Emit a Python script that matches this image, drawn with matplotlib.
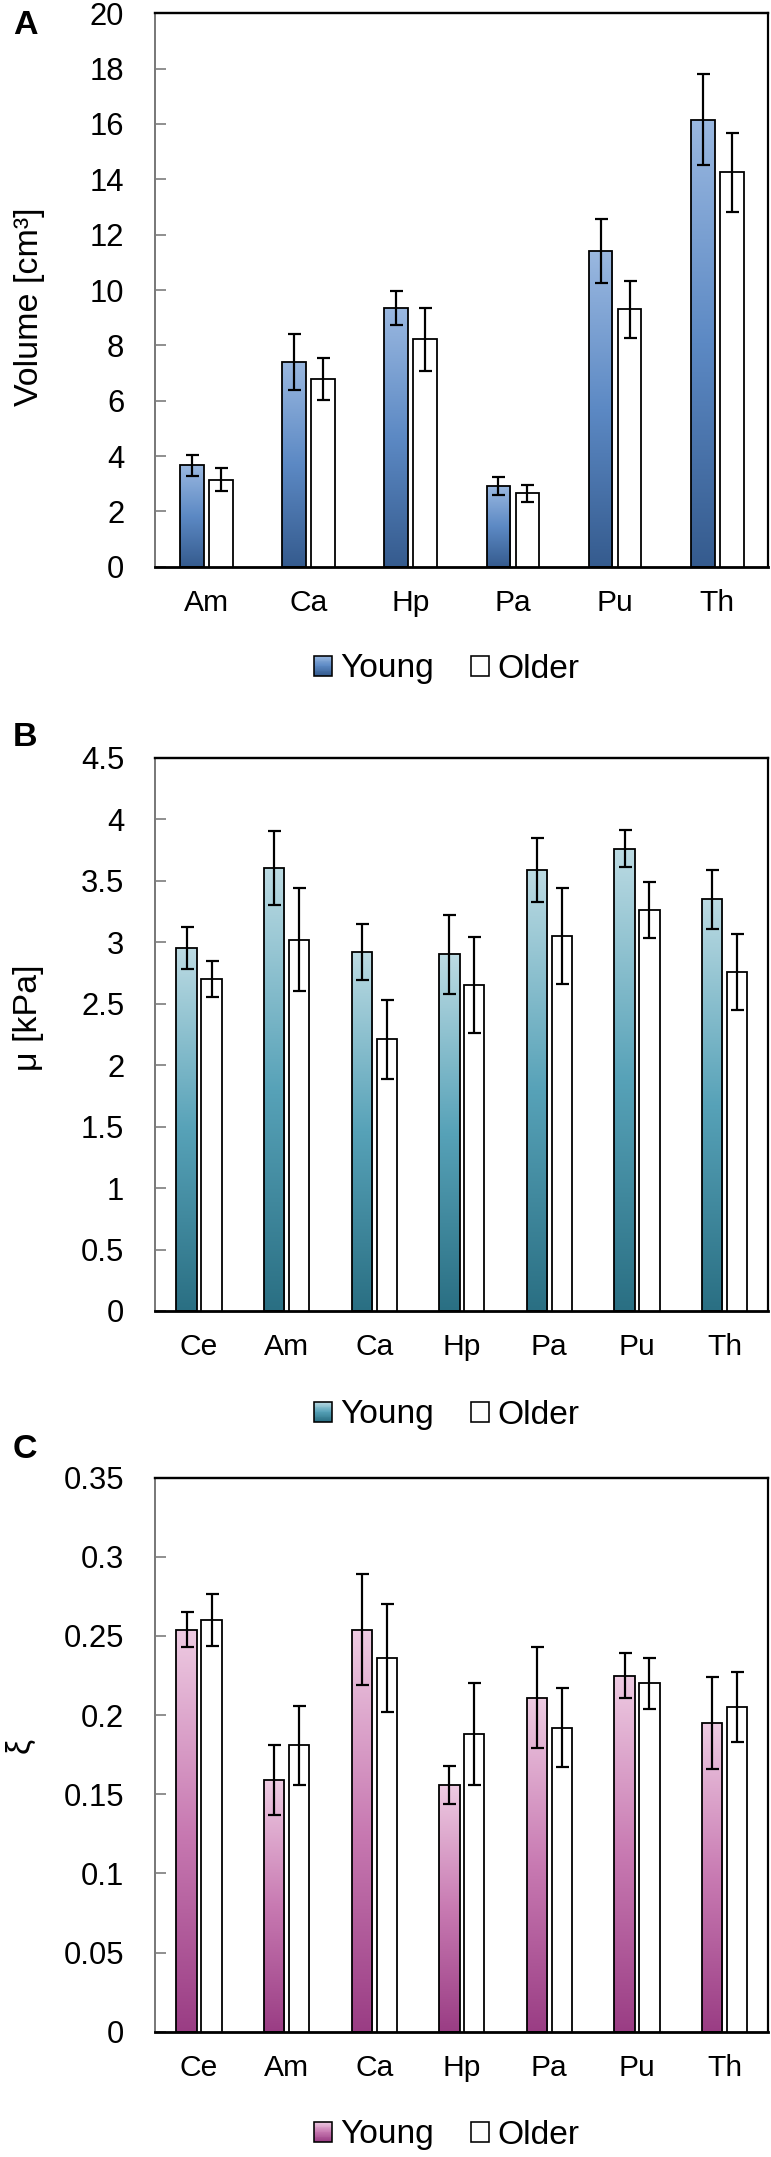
import numpy as np
import matplotlib
matplotlib.use('Agg')
import matplotlib.pyplot as plt
from matplotlib.colors import LinearSegmentedColormap
from matplotlib.legend_handler import HandlerBase
from matplotlib.patches import Rectangle, Patch

plt.rcParams['font.family'] = ['Liberation Sans', 'DejaVu Sans']

# ---------------- data ----------------
cats_A = ['Am', 'Ca', 'Hp', 'Pa', 'Pu', 'Th']
vol_young = [3.67, 7.41, 9.34, 2.91, 11.40, 16.16]
vol_young_err = [0.38, 1.01, 0.62, 0.33, 1.16, 1.65]
vol_older = [3.15, 6.78, 8.22, 2.65, 9.31, 14.25]
vol_older_err = [0.41, 0.77, 1.13, 0.31, 1.03, 1.44]

cats_BC = ['Ce', 'Am', 'Ca', 'Hp', 'Pa', 'Pu', 'Th']
mu_young = [2.95, 3.60, 2.92, 2.90, 3.59, 3.76, 3.35]
mu_young_err = [0.17, 0.30, 0.23, 0.32, 0.26, 0.15, 0.24]
mu_older = [2.70, 3.02, 2.21, 2.65, 3.05, 3.26, 2.76]
mu_older_err = [0.15, 0.42, 0.32, 0.39, 0.39, 0.23, 0.31]

xi_young = [0.254, 0.159, 0.254, 0.156, 0.211, 0.225, 0.195]
xi_young_err = [0.011, 0.022, 0.035, 0.012, 0.032, 0.014, 0.029]
xi_older = [0.260, 0.181, 0.236, 0.188, 0.192, 0.220, 0.205]
xi_older_err = [0.0165, 0.025, 0.034, 0.032, 0.025, 0.016, 0.022]

series_labels = ['Young', 'Older']
ylabels = ['Volume [cm³]', 'μ [kPa]', 'ξ']
panel_letters = ['A', 'B', 'C']

# ---------------- style ----------------
stops_A = ['#9ab8e0', '#5c89c4', '#355b8e']
stops_B = ['#bcdbe3', '#57a2b8', '#2a6f83']
stops_C = ['#eecbe2', '#c87ab2', '#9a3d84']

W, H, DPI = 771, 2157, 100


def px(v):
    return v * 72.0 / DPI


fig = plt.figure(figsize=(W / DPI, H / DPI), dpi=DPI)

AX_L, AX_R = 155.3, 768.3
panel_geom = [(13.3, 566.7), (757.7, 1311.0), (1477.7, 2031.7)]
legend_y = [669, 1415, 2135]
ylabel_pos = [(30, 307), (29, 1018), (20, 1745)]
letter_y = [26, 738, 1450]

TICK_FS = px(31)
CAT_FS = px(30)
LEG_FS = px(33.5)
YL_FS = px(34)


def gradient_image(stops, n=256):
    cmap = LinearSegmentedColormap.from_list('g', stops)
    return cmap(np.linspace(0, 1, n))[:, None, :]


class GradProxy:
    def __init__(self, stops):
        self.stops = stops


class GradHandler(HandlerBase):
    def create_artists(self, legend, orig_handle, xdescent, ydescent,
                       width, height, fontsize, trans):
        cmap = LinearSegmentedColormap.from_list('h', orig_handle.stops)
        n = 24
        arts = []
        for i in range(n):
            y0 = -ydescent + height * (1 - (i + 1) / n)
            arts.append(Rectangle((-xdescent, y0), width, height / n * 1.05,
                                  facecolor=cmap(i / (n - 1)), edgecolor='none',
                                  transform=trans))
        arts.append(Rectangle((-xdescent, -ydescent), width, height,
                              facecolor='none', edgecolor='black',
                              linewidth=px(1.6), transform=trans))
        return arts


def draw_panel(idx, cats, young, yerr, older, oerr, stops, ymax, ystep):
    top, bot = panel_geom[idx]
    ax = fig.add_axes([AX_L / W, 1 - bot / H, (AX_R - AX_L) / W, (bot - top) / H])
    x = np.arange(len(cats))
    w = 0.232
    off = 0.142
    by = ax.bar(x - off, young, w, facecolor='none', edgecolor='black',
                linewidth=px(1.8), zorder=3)
    ax.bar(x + off, older, w, facecolor='white', edgecolor='black',
           linewidth=px(1.8), zorder=3)
    img = gradient_image(stops)
    for r in by:
        x0, y0 = r.get_x(), r.get_y()
        ww, hh = r.get_width(), r.get_height()
        im = ax.imshow(img, extent=[x0, x0 + ww, y0, y0 + hh], aspect='auto',
                       origin='upper', zorder=2, interpolation='bilinear')
        im.set_clip_path(r)
    ax.errorbar(x - off, young, yerr=yerr, fmt='none', ecolor='black',
                elinewidth=px(2.2), capsize=px(6.5), capthick=px(2.2), zorder=4)
    ax.errorbar(x + off, older, yerr=oerr, fmt='none', ecolor='black',
                elinewidth=px(2.2), capsize=px(6.5), capthick=px(2.2), zorder=4)

    ax.set_xlim(-0.5, len(cats) - 0.5)
    ax.set_ylim(0, ymax)
    ticks = np.arange(0, ymax + ystep / 2, ystep)
    ax.set_yticks(ticks)
    ax.set_yticklabels([f'{round(t, 4):g}' for t in ticks])
    ax.set_xticks(x)
    ax.set_xticklabels(cats)
    ax.tick_params(axis='y', direction='in', length=px(10.7), width=px(1.5),
                   color='#6f6f6f', labelsize=TICK_FS, pad=px(31))
    ax.tick_params(axis='x', length=0, labelsize=CAT_FS, pad=px(22))
    ax.spines['left'].set_color('#7a7a7a')
    ax.spines['left'].set_linewidth(px(2))
    ax.spines['top'].set_linewidth(px(2.4))
    ax.spines['right'].set_linewidth(px(2.2))
    ax.spines['bottom'].set_linewidth(px(2.8))
    for s in ['top', 'right', 'bottom']:
        ax.spines[s].set_color('black')

    fig.legend(handles=[GradProxy(stops), Patch(facecolor='white', edgecolor='black',
                                                 linewidth=px(1.6))],
               labels=series_labels, loc='center',
               bbox_to_anchor=(447 / W, 1 - legend_y[idx] / H), ncol=2,
               frameon=False, fontsize=LEG_FS, handlelength=0.54,
               handleheight=0.54, handletextpad=0.25, columnspacing=1.1,
               borderpad=0, borderaxespad=0,
               handler_map={GradProxy: GradHandler()})
    xl, yl = ylabel_pos[idx]
    fig.text(xl / W, 1 - yl / H, ylabels[idx], rotation=90, ha='center',
             va='center', fontsize=YL_FS)
    fig.text(13 / W, 1 - letter_y[idx] / H, panel_letters[idx], ha='left',
             va='center', fontsize=px(34), fontweight='bold')
    return ax


draw_panel(0, cats_A, vol_young, vol_young_err, vol_older, vol_older_err,
           stops_A, 20, 2)
draw_panel(1, cats_BC, mu_young, mu_young_err, mu_older, mu_older_err,
           stops_B, 4.5, 0.5)
draw_panel(2, cats_BC, xi_young, xi_young_err, xi_older, xi_older_err,
           stops_C, 0.35, 0.05)

fig.savefig('out.png', dpi=DPI)
